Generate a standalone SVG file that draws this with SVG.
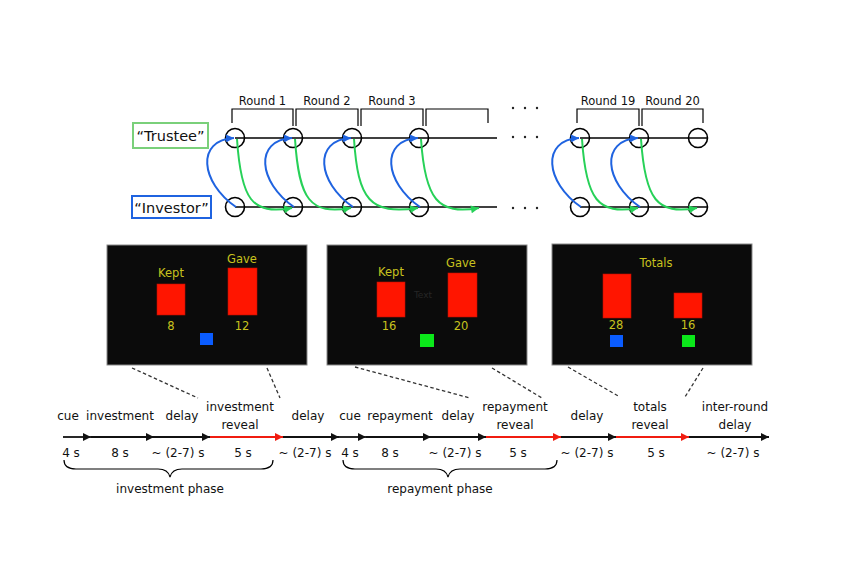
<svg xmlns="http://www.w3.org/2000/svg" width="855" height="582" viewBox="0 0 855 582">
<style>
text{font-family:"DejaVu Sans","Verdana",sans-serif;fill:#111;}
.rl{font-size:11.5px;text-anchor:middle;}
.tl{font-size:12px;text-anchor:middle;}
.sc{font-size:11.5px;text-anchor:middle;fill:#c8c21e;}
.ci{fill:none;stroke:#000;stroke-width:1.6;}
.ln{stroke:#000;stroke-width:1.6;fill:none;}
.br{fill:none;stroke:#000;stroke-width:1.2;}
.bl{fill:none;stroke:#1f63e0;stroke-width:2;marker-end:url(#mb);}
.gr{fill:none;stroke:#27d158;stroke-width:2;marker-end:url(#mg);}
.scr{fill:#0b0b0b;stroke:#8a8a8a;stroke-width:1;}
.bar{fill:#ff1500;stroke:#c01000;stroke-width:0.6;}
.ds{stroke:#333;stroke-width:1.3;stroke-dasharray:3.5,2.5;fill:none;}
.tk{stroke:#111;stroke-width:1.8;marker-end:url(#ak);}
.tr{stroke:#f01c10;stroke-width:1.8;marker-end:url(#ar);}
.dot{fill:#222;}
</style>
<defs>
<marker id="ak" viewBox="0 0 10 10" refX="10" refY="5" markerWidth="9" markerHeight="8" markerUnits="userSpaceOnUse" orient="auto"><path d="M0,0 L10,5 L0,10 z" fill="#111"/></marker>
<marker id="ar" viewBox="0 0 10 10" refX="10" refY="5" markerWidth="9" markerHeight="8" markerUnits="userSpaceOnUse" orient="auto"><path d="M0,0 L10,5 L0,10 z" fill="#f01c10"/></marker>
<marker id="mb" viewBox="0 0 10 10" refX="10" refY="5" markerWidth="10" markerHeight="8" markerUnits="userSpaceOnUse" orient="auto"><path d="M0,0 L10,5 L0,10 z" fill="#1f63e0"/></marker>
<marker id="mg" viewBox="0 0 10 10" refX="10" refY="5" markerWidth="10" markerHeight="8" markerUnits="userSpaceOnUse" orient="auto"><path d="M0,0 L10,5 L0,10 z" fill="#27d158"/></marker>
</defs>
<rect width="855" height="582" fill="#fff"/>

<!-- player labels -->
<g id="trustee">
<rect x="133" y="123" width="75" height="25" fill="#fff" stroke="#7ad07a" stroke-width="2"/>
<text x="170.5" y="141" style="font-size:14.5px;text-anchor:middle">“Trustee”</text>
</g>
<g id="investor">
<rect x="132" y="196" width="79" height="22" fill="#fff" stroke="#1f63e0" stroke-width="2"/>
<text x="171.5" y="213" style="font-size:14.5px;text-anchor:middle">“Investor”</text>
</g>

<!-- rounds brackets -->
<g id="rounds">
<path class="br" d="M232,123 V109 H293 V126"/>
<path class="br" d="M296,126 V109 H358 V126"/>
<path class="br" d="M361,126 V109 H423 V126"/>
<path class="br" d="M426,126 V109 H488 V123"/>
<path class="br" d="M577,123 V109 H639 V126"/>
<path class="br" d="M642,126 V109 H703 V123"/>
<text class="rl" x="262.5" y="105">Round 1</text>
<text class="rl" x="327" y="105">Round 2</text>
<text class="rl" x="392" y="105">Round 3</text>
<text class="rl" x="608" y="105">Round 19</text>
<text class="rl" x="672.5" y="105">Round 20</text>
<circle class="dot" cx="513" cy="108" r="1.2"/><circle class="dot" cx="525" cy="108" r="1.2"/><circle class="dot" cx="537" cy="108" r="1.2"/>
</g>

<!-- timelines with circles -->
<g id="timelines">
<line class="ln" x1="235" y1="138" x2="497" y2="138"/>
<line class="ln" x1="235" y1="207" x2="497" y2="207"/>
<line class="ln" x1="580" y1="138" x2="708" y2="138"/>
<line class="ln" x1="580" y1="207" x2="708" y2="207"/>
<circle class="dot" cx="513" cy="137" r="1.2"/><circle class="dot" cx="525" cy="137" r="1.2"/><circle class="dot" cx="537" cy="137" r="1.2"/>
<circle class="dot" cx="513" cy="208" r="1.2"/><circle class="dot" cx="525" cy="208" r="1.2"/><circle class="dot" cx="537" cy="208" r="1.2"/>
</g>
<g id="trustee-nodes">
<circle class="ci" cx="235" cy="138" r="9.5"/><circle class="ci" cx="293" cy="138" r="9.5"/><circle class="ci" cx="352" cy="138" r="9.5"/><circle class="ci" cx="419" cy="138" r="9.5"/>
<circle class="ci" cx="580" cy="138" r="9.5"/><circle class="ci" cx="639" cy="138" r="9.5"/><circle class="ci" cx="698" cy="138" r="9.5"/>
</g>
<g id="investor-nodes">
<circle class="ci" cx="235" cy="207" r="9.5"/><circle class="ci" cx="293" cy="207" r="9.5"/><circle class="ci" cx="352" cy="207" r="9.5"/><circle class="ci" cx="419" cy="207" r="9.5"/>
<circle class="ci" cx="580" cy="207" r="9.5"/><circle class="ci" cx="639" cy="207" r="9.5"/><circle class="ci" cx="698" cy="207" r="9.5"/>
</g>

<!-- connectors -->
<g id="connectors">
<path class="bl" d="M236,207 C200,182 196,140 234,138"/>
<path class="bl" d="M294,207 C258,182 254,140 292,138"/>
<path class="bl" d="M353,207 C317,182 313,140 351,138"/>
<path class="bl" d="M420,207 C384,182 380,140 418,138"/>
<path class="bl" d="M581,207 C545,182 541,140 579,138"/>
<path class="bl" d="M640,207 C604,182 600,140 638,138"/>
<path class="gr" d="M237,139 C241,200 252,215 292,208"/>
<path class="gr" d="M295,139 C299,200 310,215 351,208"/>
<path class="gr" d="M354,139 C358,200 370,215 418,208"/>
<path class="gr" d="M421,139 C425,200 438,215 479,208"/>
<path class="gr" d="M582,139 C586,200 598,215 638,208"/>
<path class="gr" d="M641,139 C645,200 657,215 697,208"/>
</g>

<!-- screens -->
<g id="screen-investment">
<rect class="scr" x="107" y="245" width="200" height="120"/>
<text class="sc" x="171" y="277">Kept</text>
<rect class="bar" x="157" y="284" width="28" height="31"/>
<text class="sc" x="171" y="330">8</text>
<text class="sc" x="242" y="263">Gave</text>
<rect class="bar" x="228" y="268" width="29" height="47"/>
<text class="sc" x="242" y="330">12</text>
<rect x="200" y="333" width="13" height="12" fill="#0a5cff"/>
</g>
<g id="screen-repayment">
<rect class="scr" x="327" y="245" width="200" height="120"/>
<text class="sc" x="391" y="276">Kept</text>
<rect class="bar" x="377" y="282" width="28" height="35"/>
<text class="sc" x="389" y="330">16</text>
<text class="sc" x="461" y="267">Gave</text>
<rect class="bar" x="448" y="273" width="29" height="44"/>
<text class="sc" x="461" y="330">20</text>
<text x="423" y="298" style="font-size:9px;text-anchor:middle;fill:#262626">Text</text>
<rect x="420" y="334" width="14" height="13" fill="#0be81a"/>
</g>
<g id="screen-totals">
<rect class="scr" x="552" y="244" width="200" height="121"/>
<text class="sc" x="656" y="267">Totals</text>
<rect class="bar" x="603" y="274" width="28" height="44"/>
<text class="sc" x="616" y="329">28</text>
<rect class="bar" x="674" y="293" width="28" height="25"/>
<text class="sc" x="688" y="329">16</text>
<rect x="610" y="335" width="13" height="12" fill="#0a5cff"/>
<rect x="682" y="335" width="13" height="12" fill="#0be81a"/>
</g>

<!-- zoom dashes -->
<g id="zoom-lines">
<line class="ds" x1="132" y1="368" x2="198" y2="398"/>
<line class="ds" x1="267" y1="368" x2="280" y2="398"/>
<line class="ds" x1="355" y1="367" x2="470" y2="398"/>
<line class="ds" x1="492" y1="368" x2="542" y2="398"/>
<line class="ds" x1="568" y1="367" x2="620" y2="397"/>
<line class="ds" x1="703" y1="368" x2="685" y2="397"/>
</g>

<!-- timeline -->
<g id="trial-timeline">
<line class="tk" x1="63" y1="437" x2="91" y2="437"/>
<line class="tk" x1="91" y1="437" x2="154" y2="437"/>
<line class="tk" x1="154" y1="437" x2="210" y2="437"/>
<line class="tr" x1="210" y1="437" x2="283" y2="437"/>
<line class="tk" x1="283" y1="437" x2="339" y2="437"/>
<line class="tk" x1="339" y1="437" x2="366" y2="437"/>
<line class="tk" x1="366" y1="437" x2="431" y2="437"/>
<line class="tk" x1="431" y1="437" x2="486" y2="437"/>
<line class="tr" x1="486" y1="437" x2="561" y2="437"/>
<line class="tk" x1="561" y1="437" x2="616" y2="437"/>
<line class="tr" x1="616" y1="437" x2="689" y2="437"/>
<line class="tk" x1="689" y1="437" x2="769" y2="437"/>
</g>
<g id="timeline-labels">
<text class="tl" x="68" y="420">cue</text>
<text class="tl" x="120" y="420">investment</text>
<text class="tl" x="182" y="420">delay</text>
<text class="tl" x="240" y="411">investment</text>
<text class="tl" x="240" y="429">reveal</text>
<text class="tl" x="308" y="420">delay</text>
<text class="tl" x="350" y="420">cue</text>
<text class="tl" x="400" y="420">repayment</text>
<text class="tl" x="458" y="420">delay</text>
<text class="tl" x="515" y="411">repayment</text>
<text class="tl" x="515" y="429">reveal</text>
<text class="tl" x="587" y="420">delay</text>
<text class="tl" x="650" y="411">totals</text>
<text class="tl" x="650" y="429">reveal</text>
<text class="tl" x="735" y="411">inter-round</text>
<text class="tl" x="735" y="429">delay</text>
</g>
<g id="durations">
<text class="tl" x="71" y="457">4 s</text>
<text class="tl" x="120" y="457">8 s</text>
<text class="tl" x="178" y="457">~ (2-7) s</text>
<text class="tl" x="243" y="457">5 s</text>
<text class="tl" x="305" y="457">~ (2-7) s</text>
<text class="tl" x="350" y="457">4 s</text>
<text class="tl" x="390" y="457">8 s</text>
<text class="tl" x="455" y="457">~ (2-7) s</text>
<text class="tl" x="518" y="457">5 s</text>
<text class="tl" x="587" y="457">~ (2-7) s</text>
<text class="tl" x="656" y="457">5 s</text>
<text class="tl" x="733" y="457">~ (2-7) s</text>
</g>
<g id="phases">
<path class="br" d="M64,460 Q64,469 76,469 L158,469 Q168,469 170,477 Q172,469 182,469 L261,469 Q273,469 273,460"/>
<path class="br" d="M343,460 Q343,469 355,469 L436,469 Q446,469 448,477 Q450,469 460,469 L545,469 Q557,469 557,460"/>
<text class="tl" x="170" y="493">investment phase</text>
<text class="tl" x="440" y="493">repayment phase</text>
</g>
</svg>
